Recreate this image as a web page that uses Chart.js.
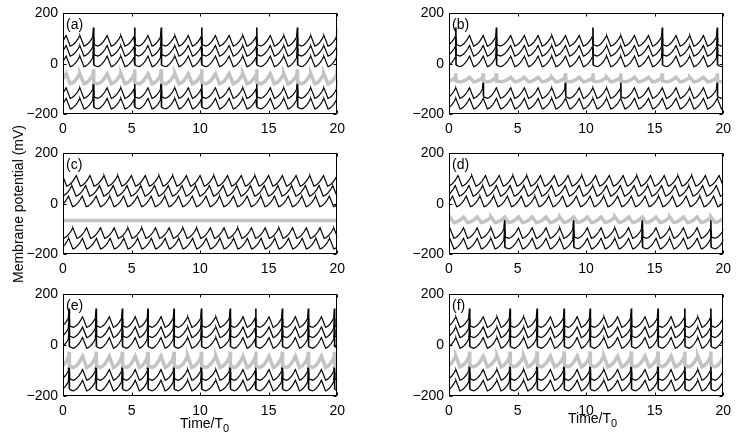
<!DOCTYPE html>
<html lang="en">
<head>
<meta charset="UTF-8">
<title>Membrane potential panels</title>
<script src="https://cdn.jsdelivr.net/npm/chart.js"></script>
<style>
  body { margin: 0; background: #fff; }
  #wrap { position: relative; width: 739px; height: 441px; overflow: hidden; font-family: 'Liberation Sans', Arial, sans-serif; color: #000; }
  canvas { position: absolute; }
  .lbl { position: absolute; font-size: 14px; white-space: nowrap; }
  .lbl sub { font-size: 11px; position: relative; top: 4px; vertical-align: baseline; }
</style>
</head>
<body>
<div id="wrap">
  <canvas id="pa" width="332" height="136" style="left:20px;top:0px"></canvas>
  <canvas id="pb" width="332" height="136" style="left:406px;top:0px"></canvas>
  <canvas id="pc" width="332" height="136" style="left:20px;top:140px"></canvas>
  <canvas id="pd" width="332" height="136" style="left:406px;top:140px"></canvas>
  <canvas id="pe" width="332" height="137" style="left:20px;top:281px"></canvas>
  <canvas id="pf" width="332" height="137" style="left:406px;top:281px"></canvas>
  <div class="lbl" style="left:18px;top:204px;transform:translate(-50%,-50%) rotate(-90deg);">Membrane potential (mV)</div>
  <div class="lbl" style="left:180px;top:415px;">Time/T<sub>0</sub></div>
  <div class="lbl" style="left:568px;top:410px;">Time/T<sub>0</sub></div>
</div>
<script>
  // axis ticks
  const timeTicks = [0, 5, 10, 15, 20];
  const voltTicks = [-200, 0, 200];
  const panelLabels = ['(a)', '(b)', '(c)', '(d)', '(e)', '(f)'];

  // one cycle: rise [fraction of rise time before the peak, fraction of swing], then fall
  const riseShape = [[1, 0], [0.8, 0.08], [0.6, 0.22], [0.4, 0.42], [0.2, 0.68], [0.07, 0.9], [0, 1]];
  const fallTime = 0.3;

  // black rows, top to bottom (the grey row sits between 3rd and 4th)
  const rowTroughs = [70, 30, -12, -138, -180];
  const rowSwing = 42;
  const spikeRise = 74;

  // grey row per panel a..f
  const grayTroughs = [-80, -72, -67, -75, -88, -85];
  const graySwings = [40, 18, 0, 22, 45, 42];
  const graySpikeRise = [58, 34, 0, 0, 62, 60];

  // (a) synchronous, all rows spike together
  const peaksA = [0.23, 1.23, 2.23, 3.22, 4.22, 5.23, 6.2, 7.17, 8.16, 9.14, 10.12, 11.12, 12.12, 13.12, 14.13, 15.12, 16.11, 17.1, 18.07, 19.03, 20.0];
  const spikesA = [2.23, 5.23, 7.17, 10.12, 14.13, 17.1, 20.0];

  // (b) upper rows and 4th black row spike at different times
  const peaksB = [0.5, 1.5, 2.5, 3.46, 4.5, 5.5, 6.5, 7.5, 8.5, 9.5, 10.5, 11.5, 12.53, 13.53, 14.55, 15.56, 16.56, 17.56, 18.56, 19.57, 20.57];
  const spikesBUpper = [0.5, 3.46, 10.5, 15.56, 19.57];
  const spikesBLower = [2.5, 8.5, 12.53, 19.57];

  // (c) travelling wave, no spikes, grey row silent
  const peaksC = [-0.03, 0.97, 1.97, 2.99, 3.99, 4.99, 6.0, 7.0, 8.0, 9.0, 10.0, 11.0, 12.0, 13.0, 14.0, 15.0, 16.0, 17.0, 18.0, 19.0, 20.0, 21.0];
  const shiftsC = [0, -0.32, -0.57, -0.25, -0.55];

  // (d) lower rows spike every 5 cycles
  const peaksD = [0.06, 1.06, 2.06, 3.06, 4.06, 5.07, 6.07, 7.08, 8.08, 9.09, 10.09, 11.09, 12.1, 13.1, 14.1, 15.1, 16.1, 17.1, 18.1, 19.1, 20.1];
  const shiftsD = [0.6, 0.4, 0.2, 0, 0];
  const spikesDLower = [4.06, 9.09, 14.1, 19.1];

  // (e) spikes every other cycle
  const peaksE = [0.45, 1.43, 2.42, 3.38, 4.33, 5.27, 6.2, 7.15, 8.1, 9.1, 10.1, 11.15, 12.2, 13.13, 14.06, 15.03, 16.0, 16.95, 17.9, 18.85, 19.8, 20.75];
  const spikesE = [0.45, 2.42, 4.33, 6.2, 8.1, 10.1, 12.2, 14.06, 16.0, 17.9, 19.8];

  // (f)
  const peaksF = [0.5, 1.5, 2.5, 3.5, 4.46, 5.45, 6.43, 7.4, 8.4, 9.35, 10.3, 11.3, 12.3, 13.3, 14.3, 15.25, 16.2, 17.2, 18.15, 19.1, 20.05];
  const spikesF = [1.5, 4.46, 6.43, 8.4, 10.3, 13.3, 15.25, 17.2, 19.1];

  Chart.defaults.font.family = "'Liberation Sans', Arial, sans-serif";
  Chart.defaults.font.size = 14;
  Chart.defaults.color = '#000';

  function buildTrace(peaks, shift, trough, swing, spikes, rise) {
    const pts = [];
    let prev = null;
    peaks.forEach(p0 => {
      const p = p0 + shift;
      const riseLen = prev === null ? 1 - fallTime : Math.max(p - prev - fallTime, 0.2);
      const spike = spikes.includes(p0) && rise > 0;
      riseShape.forEach(([f, v]) => {
        if (spike && f === 0) return;
        pts.push({ x: p - f * riseLen, y: trough + v * swing });
      });
      if (spike) {
        // up and straight back down, then the usual slow fall
        pts.push({ x: p, y: trough + rise });
        pts.push({ x: p + 0.015, y: trough + 0.15 * swing });
      }
      pts.push({ x: p + fallTime, y: trough });
      prev = p;
    });
    return pts;
  }

  // spike strokes come out heavier, as in the print
  const spikeWidth = c => {
    const dx = c.p1.parsed.x - c.p0.parsed.x;
    const dy = Math.abs(c.p1.parsed.y - c.p0.parsed.y);
    return dx < 0.08 && dy > 15 ? 1.6 : undefined;
  };

  function black(pts) {
    return { data: pts, borderColor: '#000', borderWidth: 1.2, pointRadius: 0, fill: false, segment: { borderWidth: spikeWidth } };
  }
  function grey(pts) {
    return { data: pts, borderColor: '#c3c3c3', borderWidth: 3.5, pointRadius: 0, fill: false };
  }

  // rows: [peaks, shift, spike list] for 5 black rows
  function panelData(i, rows, grayPeaks, graySpikes) {
    const ds = rows.map((r, k) => black(buildTrace(r[0], r[1], rowTroughs[k], rowSwing, r[2], spikeRise)));
    const g = grey(buildTrace(grayPeaks, 0, grayTroughs[i], graySwings[i], graySpikes, graySpikeRise[i]));
    ds.splice(3, 0, g);
    return ds;
  }

  const none = [];
  const datasetsA = panelData(0, [0, 1, 2, 3, 4].map(() => [peaksA, 0, spikesA]), peaksA, spikesA);
  const datasetsB = panelData(1, [
    [peaksB, 0, spikesBUpper], [peaksB, 0, spikesBUpper], [peaksB, 0, spikesBUpper],
    [peaksB, 0, spikesBLower], [peaksB, 0, none]
  ], peaksB, spikesBUpper.concat(spikesBLower));
  const datasetsC = panelData(2, shiftsC.map(s => [peaksC, s, none]), peaksC, none);
  const datasetsD = panelData(3, [
    [peaksD, shiftsD[0], none], [peaksD, shiftsD[1], none], [peaksD, shiftsD[2], none],
    [peaksD, shiftsD[3], spikesDLower], [peaksD, shiftsD[4], spikesDLower]
  ], peaksD, none);
  const datasetsE = panelData(4, [0, 1, 2, 3, 4].map(() => [peaksE, 0, spikesE]), peaksE, spikesE);
  const datasetsF = panelData(5, [0, 1, 2, 3, 4].map(() => [peaksF, 0, spikesF]), peaksF, spikesF);

  // box, inward tick marks and panel letter
  const framePlugin = {
    id: 'frame',
    afterDatasetsDraw(chart, args, opts) {
      const { ctx, chartArea: a } = chart;
      const x = chart.scales.x, y = chart.scales.y;
      ctx.save();
      ctx.strokeStyle = '#000';
      ctx.lineWidth = 1;
      const l = Math.round(a.left) + 0.5, r = Math.round(a.right) - 0.5;
      const t = Math.round(a.top) + 0.5, b = Math.round(a.bottom) - 0.5;
      ctx.strokeRect(l, t, r - l, b - t);
      ctx.beginPath();
      timeTicks.forEach(v => {
        const px = Math.round(x.getPixelForValue(v)) + 0.5;
        ctx.moveTo(px, b); ctx.lineTo(px, b - 3);
        ctx.moveTo(px, t); ctx.lineTo(px, t + 3);
      });
      voltTicks.forEach(v => {
        const py = Math.round(y.getPixelForValue(v)) + 0.5;
        ctx.moveTo(l, py); ctx.lineTo(l + 3, py);
        ctx.moveTo(r, py); ctx.lineTo(r - 3, py);
      });
      ctx.stroke();
      ctx.fillStyle = '#000';
      ctx.font = "14px 'Liberation Sans', Arial, sans-serif";
      ctx.textBaseline = 'middle';
      ctx.fillText(opts.label, a.left + 3, a.top + 12);
      ctx.restore();
    }
  };

  function drawPanel(id, datasets, label) {
    new Chart(document.getElementById(id), {
      type: 'line',
      data: { datasets: datasets },
      options: {
        responsive: false,
        animation: false,
        layout: { padding: { top: 9, right: 8, left: 0, bottom: 0 } },
        plugins: { legend: { display: false }, tooltip: { enabled: false }, frame: { label: label } },
        scales: {
          x: {
            type: 'linear', min: 0, max: 20,
            afterBuildTicks: s => { s.ticks = timeTicks.map(v => ({ value: v })); },
            ticks: { padding: 7, maxRotation: 0 },
            grid: { display: false, drawTicks: false },
            border: { display: false },
            afterFit: s => { s.height = 22; }
          },
          y: {
            type: 'linear', min: -200, max: 200,
            afterBuildTicks: s => { s.ticks = voltTicks.map(v => ({ value: v })); },
            ticks: { padding: 5, callback: v => (v < 0 ? '\u2212' + Math.abs(v) : String(v)) },
            grid: { display: false, drawTicks: false },
            border: { display: false },
            afterFit: s => { s.width = 43; }
          }
        }
      },
      plugins: [framePlugin]
    });
  }

  drawPanel('pa', datasetsA, panelLabels[0]);
  drawPanel('pb', datasetsB, panelLabels[1]);
  drawPanel('pc', datasetsC, panelLabels[2]);
  drawPanel('pd', datasetsD, panelLabels[3]);
  drawPanel('pe', datasetsE, panelLabels[4]);
  drawPanel('pf', datasetsF, panelLabels[5]);
</script>
</body>
</html>
